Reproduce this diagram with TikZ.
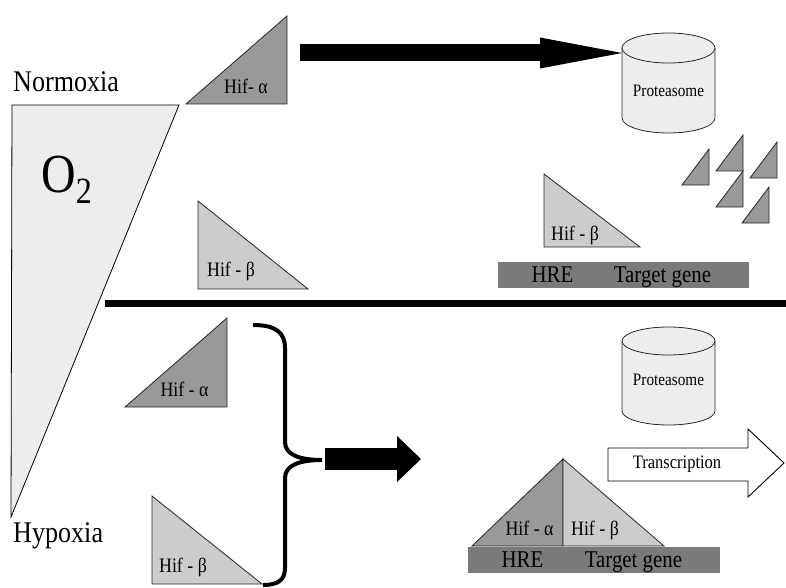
\documentclass[tikz,border=0pt]{standalone}
\usepackage{fontspec}
\setmainfont{Liberation Serif}[FakeStretch=0.87]
\usetikzlibrary{arrows.meta}

\begin{document}
\begin{tikzpicture}[
                            x=1pt, y=-1pt,
                            line join=miter,
                            font=\fontsize{20.5}{22}\selectfont
                        ]

                        \tikzstyle{tri}=[draw=black!85, line width=0.8pt]
                        \tikzstyle{hifa}=[tri, fill=black!40]
                        \tikzstyle{hifb}=[tri, fill=black!20]
                        \tikzstyle{gene}=[fill=black!52]
                        \tikzstyle{cyl}=[draw=black!85, line width=0.8pt, fill=black!7]
                        \tikzstyle{lab}=[inner sep=0pt, anchor=base]
                        \tikzstyle{big}=[lab, anchor=base west, font=\fontsize{30}{32}\selectfont]
                        \tikzstyle{prot}=[lab, font=\fontsize{17.5}{19}\selectfont]
                        \tikzstyle{gtext}=[lab, font=\fontsize{24}{26}\selectfont]

                        \useasboundingbox (0,0) rectangle (786,588);

                        % oxygen gradient
                        \draw[fill=black!7, line width=0.8pt] (12,105) -- (179,105) -- (11,517) -- cycle;
                        \node[lab, anchor=base west] (O) at (41,192)
                            {\fontsize{55}{55}\selectfont O\raisebox{-11pt}{\fontsize{37}{37}\selectfont 2}};
                        \node[big] (N) at (13,92)  {Normoxia};
                        \node[big] (H) at (13,542) {Hypoxia};

                        % normoxia
                        \draw[hifa] (186,104) -- (287,16) -- (287,104) -- cycle;
                        \node[lab] (A1) at (246,94) {Hif- α};
                        \draw[hifb] (198,201) -- (198,289) -- (308,289) -- cycle;
                        \node[lab] (B1) at (231,276) {Hif - β};

                        \coordinate (a1) at (300,53);
                        \coordinate (p1) at (622,53);
                        \draw[-{Triangle[length=82pt,width=31pt,line width=0pt]}, line width=17pt] (a1) -- (p1);

                        \draw[cyl] (622,48) -- (622,118) arc[start angle=180, end angle=360, x radius=46.5pt, y radius=15pt] -- (715,48);
                        \draw[cyl] (668.5,48) ellipse [x radius=46.5pt, y radius=15pt];
                        \node[prot] (P1) at (668.5,97) {Proteasome};

                        \foreach \x/\y in {709/185, 743/171, 777/178, 743/207, 769/223}
                            \draw[hifa] (\x-27,\y) -- (\x,\y) -- (\x,\y-36) -- cycle;

                        \draw[hifb] (544,174) -- (544,247) -- (640,247) -- cycle;
                        \node[lab] (B2) at (575,240) {Hif - β};

                        \fill[gene] (498,262) rectangle (749,288);
                        \node[gtext] (R1) at (552.5,282) {HRE};
                        \node[gtext] (G1) at (662.5,282) {Target gene};

                        % divider
                        \draw[line width=7pt] (105,303.5) -- (786,303.5);

                        % hypoxia
                        \draw[hifa] (125,407) -- (227,318) -- (227,407) -- cycle;
                        \node[lab] (A3) at (184.5,396) {Hif - α};
                        \draw[hifb] (152,496) -- (152,584) -- (262,584) -- cycle;
                        \node[lab] (B3) at (183,572) {Hif - β};

                        \coordinate (br) at (322,460);
                        \draw[line width=4pt]
                            (253,325) .. controls (275,325) and (285,332) .. (285,348)
                            -- (285,442) .. controls (285,455) and (300,460) .. (br)
                            .. controls (300,460) and (285,465) .. (285,478)
                            -- (285,568) .. controls (285,580) and (278,585) .. (263,585);

                        \coordinate (s) at (325,459);
                        \coordinate (c) at (421,459);
                        \draw[-{Triangle[length=24pt,width=46pt,line width=0pt]}, line width=22pt] (s) -- (c);

                        \draw[cyl] (622,341) -- (622,411) arc[start angle=180, end angle=360, x radius=46.5pt, y radius=14pt] -- (715,341);
                        \draw[cyl] (668.5,341) ellipse [x radius=46.5pt, y radius=14pt];
                        \node[prot] (P2) at (668.5,385) {Proteasome};

                        \draw[fill=white, line width=0.9pt] (608,448) -- (748,448) -- (748,429) -- (784,463)
                            -- (748,497) -- (748,481) -- (608,481) -- cycle;
                        \node[lab, font=\fontsize{19}{21}\selectfont] (T) at (677,468) {Transcription};

                        \draw[hifa] (472,546) -- (563,459) -- (563,546) -- cycle;
                        \draw[hifb] (563,459) -- (664,546) -- (563,546) -- cycle;
                        \node[lab] (A4) at (529.5,535) {Hif - α};
                        \node[lab] (B4) at (595,535) {Hif - β};

                        \fill[gene] (468,547) rectangle (720,573);
                        \node[gtext] (R2) at (522.5,567) {HRE};
                        \node[gtext] (G2) at (633.5,567) {Target gene};
                    \end{tikzpicture}
\end{document}
